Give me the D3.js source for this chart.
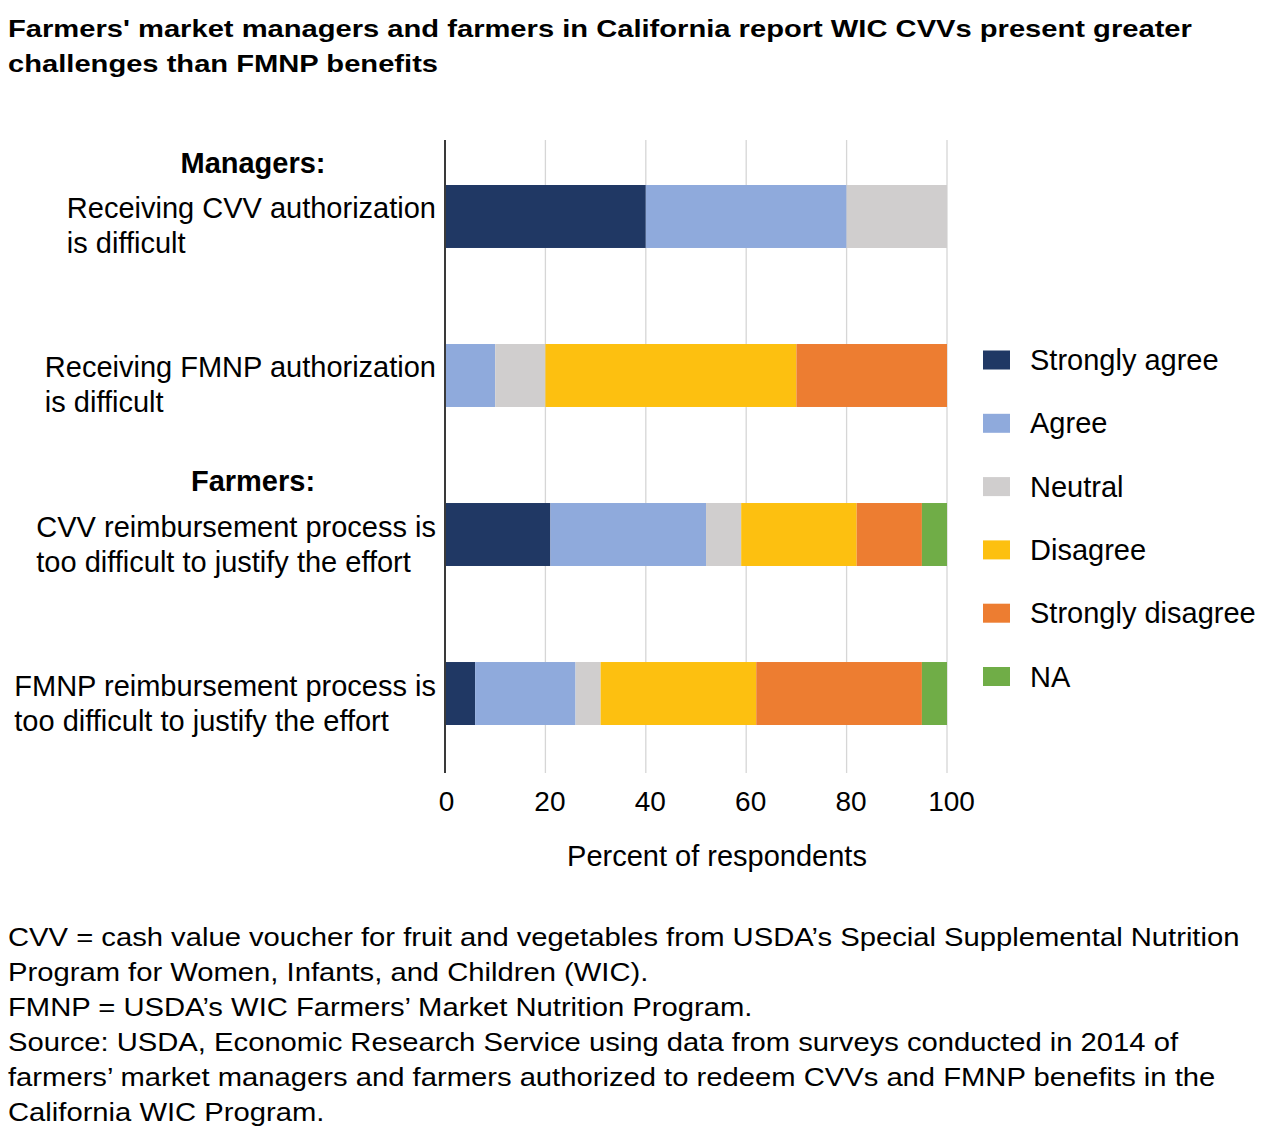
<!DOCTYPE html>
<html>
<head>
<meta charset="utf-8">
<script src="https://cdn.jsdelivr.net/npm/d3@7"></script>
<style>
  body { margin: 0; background: #fff; }
  text { font-family: "Liberation Sans", Arial, Helvetica, sans-serif; fill: #000; }
</style>
</head>
<body>
<svg id="chart" width="1269" height="1140"></svg>
<script>
// survey responses, percent of respondents
var questions = [
  ["Receiving CVV authorization", "is difficult"],
  ["Receiving FMNP authorization", "is difficult"],
  ["CVV reimbursement process is", "too difficult to justify the effort"],
  ["FMNP reimbursement process is", "too difficult to justify the effort"]
]
var groups = [["Managers:", 0], ["Farmers:", 2]]
var responses = ["Strongly agree", "Agree", "Neutral", "Disagree", "Strongly disagree", "NA"]
var colors = ["#203864", "#8faadc", "#d0cece", "#fdc010", "#ed7d31", "#70ad47"]

var strongly_agree    = [40,  0, 21,  6]
var agree             = [40, 10, 31, 20]
var neutral           = [20, 10,  7,  5]
var disagree          = [ 0, 50, 23, 31]
var strongly_disagree = [ 0, 30, 13, 33]
var na                = [ 0,  0,  5,  5]

var x_ticks = [0, 20, 40, 60, 80, 100]

var title_lines = [
  "Farmers' market managers and farmers in California report WIC CVVs present greater",
  "challenges than FMNP benefits"
]
var note_lines = [
  "CVV = cash value voucher for fruit and vegetables from USDA\u2019s Special Supplemental Nutrition",
  "Program for Women, Infants, and Children (WIC).",
  "FMNP = USDA\u2019s WIC Farmers\u2019 Market Nutrition Program.",
  "Source: USDA, Economic Research Service using data from surveys conducted in 2014 of",
  "farmers\u2019 market managers and farmers authorized to redeem CVVs and FMNP benefits in the",
  "California WIC Program."
]

var svg = d3.select("#chart")

// build rows for the stack
var series_values = [strongly_agree, agree, neutral, disagree, strongly_disagree, na]
var rows = questions.map(function(q, i) {
  var r = { idx: i }
  responses.forEach(function(k, j) { r[k] = series_values[j][i] })
  return r
})

var x = d3.scaleLinear().domain([0, 100]).range([445, 947])
var y = d3.scaleBand().domain(d3.range(questions.length))
  .range([138.5, 771.5]).paddingInner(0.604).paddingOuter(0.2925)
var color = d3.scaleOrdinal().domain(responses).range(colors)

var plot_top = 140, plot_bottom = 773

// stretch a block of text lines horizontally so its first line spans `target` px
function text_block(lines, left, top, step, size, weight, target) {
  var g = svg.append("g")
  var t = g.selectAll("text")
    .data(lines)
    .enter().append("text")
    .attr("x", 0)
    .attr("y", function(d, i) { return top + i * step })
    .style("font-size", size + "px")
    .style("font-weight", weight)
    .text(function(d) { return d })
  var sx = target / t.node().getComputedTextLength()
  g.attr("transform", "translate(" + left + ",0) scale(" + sx + ",1)")
}

text_block(title_lines, 8, 37, 35, 24, "bold", 1184)

// gridlines
svg.append("g")
  .selectAll("line")
  .data(x_ticks.slice(1))
  .enter().append("line")
  .attr("x1", function(d) { return x(d) })
  .attr("x2", function(d) { return x(d) })
  .attr("y1", plot_top)
  .attr("y2", plot_bottom)
  .attr("stroke", "#d6d6d6")
  .attr("stroke-width", 1.3)

// bars
var stack = d3.stack().keys(responses)(rows)
svg.append("g")
  .selectAll("g")
  .data(stack)
  .enter().append("g")
  .attr("fill", function(d) { return color(d.key) })
  .selectAll("rect")
  .data(function(d) { return d })
  .enter().append("rect")
  .attr("x", function(d) { return x(d[0]) })
  .attr("width", function(d) { return x(d[1]) - x(d[0]) })
  .attr("y", function(d) { return y(d.data.idx) })
  .attr("height", y.bandwidth())

// x axis labels
var xAxis = d3.axisBottom(x).tickValues(x_ticks).tickSize(0).tickPadding(0)
var gx = svg.append("g")
  .attr("transform", "translate(0," + plot_bottom + ")")
  .call(xAxis)
gx.select(".domain").remove()
gx.selectAll("text")
  .attr("dy", null)
  .attr("y", 38)
  .attr("dx", function(d) { return d ? 4 : 1 })
  .style("font-size", "28px")
  .style("font-family", "'Liberation Sans', Arial, sans-serif")
  .attr("fill", "#000")

// vertical axis line at zero
svg.append("line")
  .attr("x1", x(0)).attr("x2", x(0))
  .attr("y1", plot_top).attr("y2", plot_bottom)
  .attr("stroke", "#3a3a3a")
  .attr("stroke-width", 2)

svg.append("text")
  .attr("x", 717)
  .attr("y", 866)
  .attr("text-anchor", "middle")
  .style("font-size", "29px")
  .text("Percent of respondents")

// category labels, each block left aligned and right edge at 436
svg.selectAll(".cat")
  .data(questions)
  .enter().append("g")
  .attr("class", "cat")
  .each(function(lines, i) {
    var g = d3.select(this)
    var t = g.selectAll("text")
      .data(lines)
      .enter().append("text")
      .attr("y", function(d, j) { return y(i) + y.bandwidth() / 2 + 2 + j * 35 })
      .style("font-size", "29px")
      .text(function(d) { return d })
    var w = 0
    t.each(function() { w = Math.max(w, this.getComputedTextLength()) })
    t.attr("x", 436 - w)
  })

// group headers
svg.selectAll(".grp")
  .data(groups)
  .enter().append("text")
  .attr("class", "grp")
  .attr("x", 253)
  .attr("y", function(d) { return y(d[1]) - 12 })
  .attr("text-anchor", "middle")
  .style("font-size", "29px")
  .style("font-weight", "bold")
  .text(function(d) { return d[0] })

// legend
var leg = svg.append("g")
  .selectAll("g")
  .data(responses)
  .enter().append("g")
  .attr("transform", function(d, i) { return "translate(983," + (360 + i * 63.3) + ")" })
leg.append("rect")
  .attr("x", 0).attr("y", -9.5)
  .attr("width", 27).attr("height", 19)
  .attr("fill", function(d) { return color(d) })
leg.append("text")
  .attr("x", 47)
  .attr("y", 10)
  .style("font-size", "29px")
  .text(function(d) { return d })

// notes
text_block(note_lines, 8, 946, 35, 26.5, "normal", 1232)
</script>
</body>
</html>
